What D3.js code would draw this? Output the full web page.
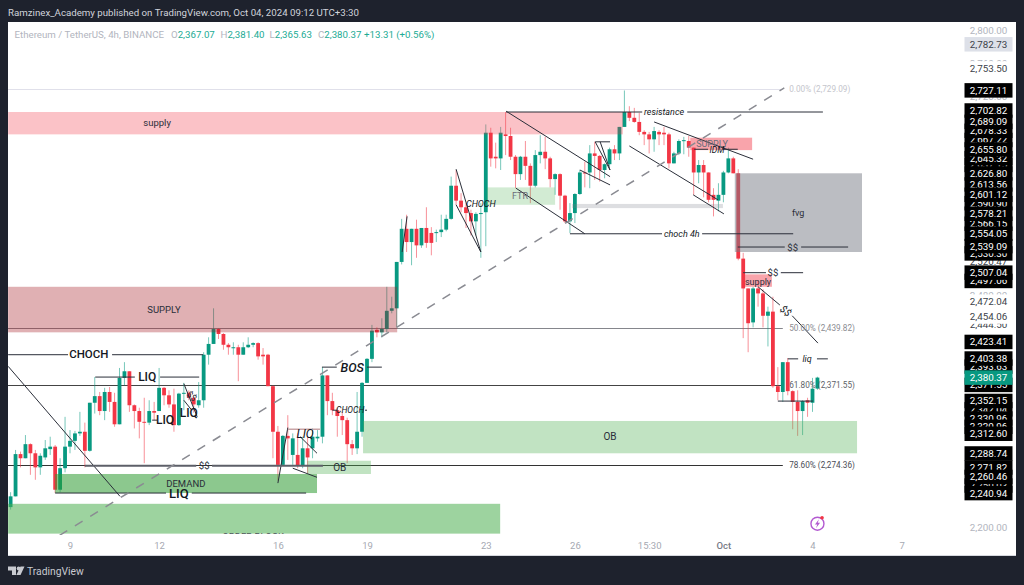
<!DOCTYPE html>
<html>
<head>
<meta charset="utf-8">
<title>ETHUSDT 4h</title>
<script src="https://cdnjs.cloudflare.com/ajax/libs/d3/7.8.5/d3.min.js"></script>
<style>
  html, body { margin: 0; padding: 0; background: #1e222d; overflow: hidden; }
  svg { display: block; font-family: Roboto, sans-serif; }
  .note { fill: #2a2e39; }
  .note.gray { fill: #6a6d78; }
  .note.strong { font-weight: 500; fill: #131722; }
  .note.slant { font-style: italic; fill: #131722; }
  .note.heavy { font-style: italic; font-weight: 500; fill: #131722; }
</style>
</head>
<body>
<div id="chart"></div>
<script>
// candles, 4h bars, first bar is Sep 7 00:00
const opens = [
  2224,2237,2288,2283,2300,2289,2272,2284,2294,2297,
  2245,2271,2297,2304,2313,2315,2292,2350,2358,2340,
  2363,2351,2324,2380,2388,2347,2340,2327,2326,2340,
  2340,2368,2359,2348,2323,2361,2362,2356,2347,2353,
  2408,2421,2439,2433,2420,2416,2417,2408,2417,2420,
  2422,2408,2408,2370,2315,2275,2310,2287,2287,2274,
  2295,2295,2307,2309,2383,2352,2341,2334,2329,2300,
  2295,2315,2374,2403,2438,2435,2439,2461,2464,2520,
  2560,2544,2560,2540,2561,2555,2555,2556,2559,2572,
  2612,2594,2586,2579,2569,2578,2580,2676,2647,2645,
  2674,2672,2647,2626,2647,2636,2612,2649,2653,2645,
  2620,2626,2600,2569,2579,2602,2628,2628,2651,2648,
  2631,2638,2656,2651,2683,2701,2694,2689,2677,2674,
  2668,2677,2676,2674,2639,2651,2666,2666,2658,2628,
  2637,2628,2601,2594,2601,2628,2645,2627,2524,2488,
  2447,2488,2482,2455,2460,2370,2363,2399,2364,2351,
  2340,2353,2350,2367.07];
const highs = [
  2242,2293,2291,2311,2301,2293,2289,2305,2309,2299,
  2283,2333,2317,2316,2339,2326,2350,2381,2363,2368,
  2369,2362,2392,2399,2388,2348,2344,2356,2353,2351,
  2392,2369,2365,2367,2362,2374,2365,2357,2375,2411,
  2429,2464,2440,2434,2422,2423,2420,2423,2429,2423,
  2423,2416,2409,2371,2322,2311,2335,2313,2313,2309,
  2309,2319,2317,2393,2383,2362,2344,2339,2332,2305,
  2363,2375,2404,2444,2441,2452,2490,2478,2520,2572,
  2577,2560,2571,2561,2586,2562,2559,2577,2577,2623,
  2631,2603,2591,2583,2580,2591,2686,2682,2664,2683,
  2701,2682,2649,2648,2666,2639,2655,2673,2671,2647,
  2627,2627,2601,2591,2603,2631,2641,2661,2665,2649,
  2639,2658,2661,2683,2727,2708,2706,2700,2679,2677,
  2683,2679,2683,2676,2653,2668,2671,2672,2658,2643,
  2643,2628,2609,2615,2630,2658,2647,2632,2531,2488,
  2490,2498,2487,2466,2478,2393,2399,2404,2365,2365,
  2353,2356,2380,2381.40];
const lows = [
  2221,2237,2272,2283,2263,2257,2263,2281,2287,2241,
  2242,2266,2289,2293,2310,2272,2291,2337,2335,2329,
  2339,2321,2324,2371,2339,2319,2307,2277,2323,2329,
  2340,2347,2344,2315,2322,2341,2353,2338,2344,2344,
  2396,2421,2427,2414,2408,2408,2376,2408,2416,2417,
  2402,2396,2370,2283,2256,2275,2281,2275,2271,2271,
  2265,2283,2303,2301,2335,2335,2309,2311,2277,2287,
  2288,2309,2374,2399,2429,2429,2435,2458,2441,2517,
  2532,2516,2525,2537,2537,2528,2544,2550,2557,2571,
  2589,2580,2561,2552,2552,2525,2539,2635,2633,2631,
  2649,2643,2609,2619,2619,2591,2610,2639,2632,2610,
  2601,2583,2567,2555,2567,2601,2610,2609,2619,2617,
  2621,2635,2643,2643,2683,2690,2688,2673,2661,2651,
  2653,2661,2661,2633,2639,2649,2650,2647,2601,2615,
  2598,2592,2575,2581,2592,2627,2627,2522,2428,2411,
  2441,2466,2441,2418,2368,2353,2351,2359,2318,2310,
  2311,2333,2339,2365.63];
const closes = [
  2237,2288,2283,2300,2289,2272,2286,2295,2297,2245,
  2271,2297,2304,2313,2315,2292,2350,2358,2340,2363,
  2351,2324,2380,2388,2347,2340,2327,2326,2340,2338,
  2368,2359,2348,2323,2361,2362,2356,2348,2353,2408,
  2421,2439,2433,2420,2417,2417,2408,2417,2420,2422,
  2406,2406,2370,2315,2275,2310,2307,2307,2274,2295,
  2284,2309,2309,2383,2352,2341,2334,2329,2300,2295,
  2315,2374,2403,2437,2435,2439,2461,2464,2520,2560,
  2544,2560,2540,2561,2543,2543,2556,2559,2572,2612,
  2594,2586,2579,2569,2578,2579,2676,2645,2645,2676,
  2672,2647,2626,2647,2636,2612,2649,2653,2645,2620,
  2626,2600,2569,2579,2602,2628,2627,2651,2648,2631,
  2638,2656,2651,2683,2701,2694,2689,2677,2674,2668,
  2678,2674,2674,2639,2651,2666,2667,2658,2628,2637,
  2628,2595,2595,2601,2628,2645,2627,2524,2488,2446,
  2488,2482,2455,2460,2370,2363,2399,2364,2351,2340,
  2352,2350,2367,2380.37];

// time axis
const tickBars = [12, 30, 54, 72, 96, 114, 129, 144, 162, 180];
const tickLabels = ["9", "12", "16", "19", "23", "26", "15:30", "Oct", "4", "7"];

// fib levels
const fibPrices = [2729.09, 2439.82, 2371.55, 2274.36];
const fibLabels = ["0.00% (2,729.09)", "50.00% (2,439.82)", "61.80% (2,371.55)", "78.60% (2,274.36)"];

// price scale labels, later ones paint over earlier ones
const axisGray = [2800, 2760, 2720, 2480, 2200];
const axisPlain = [2520.47, 2753.50, 2472.04, 2444.50, 2454.06];
const axisBlack = [
  2667.22, 2637.15, 2590.90, 2566.15, 2530.30, 2678.33, 2645.32,
  2497.06, 2393.63, 2371.55, 2342.04, 2330.96, 2320.96, 2250.03,
  2702.82, 2689.09, 2655.80, 2626.80, 2613.56, 2601.12, 2578.21, 2554.05, 2539.09,
  2507.04, 2727.11, 2423.41, 2403.38, 2352.15, 2312.60,
  2288.74, 2271.82, 2260.46, 2240.94];

// boxes: first bar, last bar, top price, bottom price
const zones = [
  { bars: [-0.5, 123.7], prices: [2701, 2674], kind: "pink" },
  { bars: [-0.5, 78.1], prices: [2490, 2435], kind: "rose" },
  { bars: [-0.5, 98.9], prices: [2228, 2192], kind: "green" },
  { bars: [9, 61.9], prices: [2264, 2241], kind: "deep" },
  { bars: [59.9, 72.8], prices: [2280, 2264], kind: "pale" },
  { bars: [71.2, 171], prices: [2328, 2289], kind: "pale" },
  { bars: [96.2, 110], prices: [2610, 2589], kind: "faint" },
  { bars: [113.4, 143.9], prices: [2590, 2585], kind: "strip" },
  { bars: [137.3, 149.8], prices: [2670, 2655], kind: "red" },
  { bars: [146.3, 172], prices: [2627, 2532], kind: "gray" },
  { bars: [148, 153.8], prices: [2505, 2490], kind: "red" }
];
const zoneFill = {
  pink: "rgba(242,54,69,.3)", rose: "rgba(166,29,38,.35)", green: "rgba(76,175,80,.55)",
  deep: "rgba(46,155,50,.55)", pale: "rgba(76,175,80,.35)", faint: "rgba(76,175,80,.25)",
  strip: "rgba(120,123,134,.25)", red: "rgba(242,54,69,.45)", gray: "rgba(120,123,134,.5)"
};

// drawn lines: bar, price, bar, price
const segments = [
  [-0.5, 2408, 11.6, 2408], [20.5, 2408, 38.9, 2408],
  [-0.5, 2394, 22.1, 2237],
  [17.1, 2381, 25.1, 2381], [30.2, 2381, 38.1, 2381],
  [28.6, 2329, 29.6, 2329],
  [35, 2373, 37.7, 2333], [35, 2353, 36.6, 2341],
  [9, 2241, 31.4, 2241], [36.6, 2241, 59.7, 2241],
  [54, 2253, 56, 2320],
  [58.5, 2309, 61.9, 2289], [57, 2271, 61.9, 2260],
  [62.9, 2393, 65.9, 2393], [72, 2393, 75, 2393],
  [65, 2341, 66, 2341], [71.6, 2341, 72, 2341],
  [90, 2632, 95, 2532], [90, 2589, 95, 2532], [80.1, 2575, 79.1, 2532],
  [100.1, 2701, 127.6, 2701], [136.7, 2701, 164.1, 2701],
  [100.1, 2702, 121.1, 2623], [102.1, 2609, 116, 2554],
  [113, 2554, 131.6, 2554], [139.7, 2554, 158.1, 2554],
  [118.1, 2665, 121.1, 2665], [118.1, 2665, 121.1, 2631], [119.1, 2665, 121.1, 2631],
  [115, 2631, 121.1, 2613],
  [130, 2689, 150, 2644], [125, 2660, 142.9, 2595], [137.9, 2601, 144.1, 2578],
  [138.1, 2656, 140.9, 2656], [143.9, 2656, 146.9, 2656],
  [146.9, 2538, 156.4, 2538], [159.7, 2538, 169.2, 2538],
  [148, 2507, 152.6, 2507], [155.6, 2507, 160.1, 2507],
  [151, 2490, 155.4, 2468], [157.9, 2455, 163.1, 2422],
  [157, 2403, 159.1, 2403], [162.9, 2403, 165.1, 2403],
  [155, 2352, 162.1, 2352]
];
const thickSegments = [[15, 2274, 37.5, 2274], [40.7, 2274, 63.1, 2274]];
const trend = [9.9, 2190, 156.3, 2730];
const liqBox = [56, 2318, 62.5, 2318];

// text on the chart: text, bar, price, size, class, rotation
const notes = [
  ["supply", 29.6, 2688, 9.5, "", 0],
  ["SUPPLY", 31, 2463, 9.5, "", 0],
  ["CHOCH", 15.8, 2409, 11.5, "strong", 0],
  ["LIQ", 27.6, 2381, 12, "strong", 0],
  ["LIQ", 31.2, 2329, 12, "strong", 0],
  ["LIQ", 36, 2338, 12, "strong", 0],
  ["$$", 36.6, 2358, 9, "", 40],
  ["$$", 39.1, 2274, 9.5, "", 0],
  ["DEMAND", 35.4, 2252, 9.5, "", 0],
  ["LIQ", 34, 2241, 13, "strong", 0],
  ["LIQ", 59.5, 2312, 12, "slant", 0],
  ["OB", 66.5, 2272, 10, "", 0],
  ["OB", 121.1, 2309, 10, "", 0],
  ["BOS", 69, 2393, 12.5, "heavy", 0],
  ["CHOCH", 68.6, 2341, 8.5, "slant", 0],
  ["CHOCH", 95, 2590, 9, "slant", 0],
  ["FTR", 102.9, 2600, 9, "gray", 0],
  ["resistance", 132, 2701, 9, "slant", 0],
  ["choch 4h", 135.6, 2554, 9, "slant", 0],
  ["SUPPLY", 141.7, 2662, 9, "gray", 0],
  ["IDM", 142.7, 2655, 8.5, "slant", 0],
  ["fvg", 159.1, 2579, 9, "", 0],
  ["$$", 158, 2538, 9.5, "", 0],
  ["$$", 154, 2507, 9.5, "", 0],
  ["supply", 151, 2496, 9, "", 0],
  ["$$", 156.6, 2461, 10, "slant", 40],
  ["liq", 160.9, 2403, 9, "slant", 0]
];

const width = 1024, height = 585;
const plot = { left: 8, right: 963, top: 22, bottom: 535, edge: 1016, base: 556 };

const svg = d3.select("#chart").append("svg")
  .attr("width", width)
  .attr("height", height);

svg.append("rect")
  .attr("x", plot.left)
  .attr("y", plot.top)
  .attr("width", plot.edge - plot.left)
  .attr("height", plot.base - plot.top)
  .attr("fill", "#fff");
svg.append("rect")
  .attr("x", plot.left)
  .attr("y", plot.base - 1)
  .attr("width", plot.edge - plot.left)
  .attr("height", 1)
  .attr("fill", "#d6d8de");

svg.append("clipPath").attr("id", "plot-clip").append("rect")
  .attr("x", plot.left)
  .attr("y", plot.top)
  .attr("width", plot.right - plot.left)
  .attr("height", plot.bottom - plot.top);

// 4.95px per bar, 0.8283px per dollar
const x = d3.scaleLinear().domain([0, 180]).range([10.6, 901.6]);
const y = d3.scaleLinear().domain([2800, 2200]).range([30, 527]);

const g = svg.append("g").attr("clip-path", "url(#plot-clip)");

// trading view keeps the fib lines behind everything
const fibColor = ["#e0e0ea", "#85868c", "#444", "#333"];
g.selectAll(".fib").data(fibPrices).join("line")
  .attr("class", "fib")
  .attr("x1", plot.left)
  .attr("x2", x(156))
  .attr("y1", d => Math.round(y(d)) + 0.5)
  .attr("y2", d => Math.round(y(d)) + 0.5)
  .attr("stroke", (d, i) => fibColor[i]);

const bars = d3.range(opens.length);
const isUp = i => closes[i] >= opens[i];

g.selectAll(".wick").data(bars).join("line")
  .attr("class", "wick")
  .attr("x1", i => x(i))
  .attr("x2", i => x(i))
  .attr("y1", i => y(highs[i]))
  .attr("y2", i => y(lows[i]))
  .attr("stroke", i => isUp(i) ? "#089981" : "#f23645")
  .attr("stroke-opacity", 0.55)
  .attr("stroke-width", 1);

g.selectAll(".body").data(bars).join("rect")
  .attr("class", "body")
  .attr("x", i => x(i) - 1.9)
  .attr("width", 3.8)
  .attr("y", i => y(Math.max(opens[i], closes[i])))
  .attr("height", i => Math.max(1, Math.abs(y(opens[i]) - y(closes[i]))))
  .attr("fill", i => isUp(i) ? "#089981" : "#f23645");

g.selectAll(".zone").data(zones).join("rect")
  .attr("class", "zone")
  .attr("x", d => x(d.bars[0]))
  .attr("width", d => x(d.bars[1]) - x(d.bars[0]))
  .attr("y", d => y(d.prices[0]))
  .attr("height", d => y(d.prices[1]) - y(d.prices[0]))
  .attr("fill", d => zoneFill[d.kind]);

g.selectAll(".seg").data(segments).join("line")
  .attr("class", "seg")
  .attr("x1", d => x(d[0]))
  .attr("y1", d => y(d[1]))
  .attr("x2", d => x(d[2]))
  .attr("y2", d => y(d[3]))
  .attr("stroke", "#2a2e39")
  .attr("stroke-width", 1);

g.selectAll(".seg-thick").data(thickSegments).join("line")
  .attr("class", "seg-thick")
  .attr("x1", d => x(d[0]))
  .attr("y1", d => y(d[1]))
  .attr("x2", d => x(d[2]))
  .attr("y2", d => y(d[3]))
  .attr("stroke", "#5d5f68")
  .attr("stroke-width", 2);

g.append("line")
  .attr("x1", x(liqBox[0]))
  .attr("y1", y(liqBox[1]))
  .attr("x2", x(liqBox[2]))
  .attr("y2", y(liqBox[3]))
  .attr("stroke", "#c9a5a8")
  .attr("stroke-width", 1.5);

g.append("line")
  .attr("x1", x(trend[0]))
  .attr("y1", y(trend[1]))
  .attr("x2", x(trend[2]))
  .attr("y2", y(trend[3]))
  .attr("stroke", "#8a8b92")
  .attr("stroke-width", 1.5)
  .attr("stroke-dasharray", "9 9");

g.selectAll(".note").data(notes).join("text")
  .attr("class", d => "note " + d[4])
  .attr("transform", d => `translate(${x(d[1])},${y(d[2])}) rotate(${d[5]})`)
  .attr("text-anchor", "middle")
  .attr("dominant-baseline", "central")
  .attr("font-size", d => d[3])
  .text(d => d[0]);

// the order block caption sits half outside its box in the original
svg.append("clipPath").attr("id", "ob-clip").append("rect")
  .attr("x", plot.left)
  .attr("y", y(2228))
  .attr("width", plot.right - plot.left)
  .attr("height", y(2192) - y(2228));
g.append("text")
  .attr("class", "note")
  .attr("clip-path", "url(#ob-clip)")
  .attr("x", x(49))
  .attr("y", y(2188))
  .attr("text-anchor", "middle")
  .attr("dominant-baseline", "central")
  .attr("font-size", 9.5)
  .text("ORDER BLOCK");

g.selectAll(".fib-label").data(fibPrices).join("text")
  .attr("class", "fib-label")
  .attr("x", x(157.3))
  .attr("y", d => y(d))
  .attr("dominant-baseline", "central")
  .attr("font-size", 8.2)
  .attr("fill", (d, i) => ["#c4c5cc", "#8b8c92", "#5d5f68", "#4a4c55"][i])
  .text((d, i) => fibLabels[i]);

// news bolt near the last bar
const bolt = svg.append("g").attr("transform", `translate(${x(163)},${y(2204)})`);
bolt.append("circle").attr("r", 6.5).attr("fill", "#fff").attr("stroke", "#b35ad1").attr("stroke-width", 1.4);
bolt.append("path").attr("d", "M1.5 -4.5 L-2.5 0.8 H-0.2 L-1.5 4.5 L2.6 -1 H0.3 Z").attr("fill", "#b35ad1");
bolt.append("circle").attr("cx", 4.6).attr("cy", -6).attr("r", 1.8).attr("fill", "#f23645");

// time axis
const xAxis = d3.axisBottom(x)
  .tickValues(tickBars)
  .tickFormat((d, i) => tickLabels[i])
  .tickSize(0)
  .tickPadding(0);
const xAxisG = svg.append("g")
  .attr("transform", `translate(0,${plot.bottom + 7})`)
  .call(xAxis);
xAxisG.select(".domain").remove();
xAxisG.selectAll("text")
  .attr("font-family", "Roboto, sans-serif")
  .attr("font-size", 9.5)
  .attr("fill", "#a6a9b2");
xAxisG.selectAll(".tick").filter((d, i) => tickLabels[i] === "Oct").select("text")
  .attr("font-weight", 500)
  .attr("fill", "#787b86");

// price scale
const axisX = 988.5, boxW = 48, boxH = 14.5;
const priceFmt = d3.format(",.2f");

function priceLabels(values, boxFill, textFill) {
  const sel = svg.append("g").selectAll("g").data(values).join("g")
    .attr("transform", d => `translate(${axisX},${y(d)})`);
  sel.append("rect")
    .attr("x", -boxW / 2)
    .attr("y", -boxH / 2)
    .attr("width", boxW)
    .attr("height", boxH)
    .attr("fill", boxFill);
  sel.append("text")
    .attr("text-anchor", "middle")
    .attr("dominant-baseline", "central")
    .attr("font-size", 9.8)
    .attr("fill", textFill)
    .text(d => priceFmt(d));
}

priceLabels(axisGray, "#fff", "#b2b5be");
priceLabels(axisPlain, "#fff", "#3c3f49");
priceLabels(axisBlack, "#000", "#fff");
priceLabels([2782.73], "#dde0e8", "#3c3f49");
priceLabels([2380.37], "#089981", "#fff");

// header and legend
svg.append("text")
  .attr("x", 8)
  .attr("y", 15.5)
  .attr("font-size", 9.7)
  .attr("fill", "#d1d4dc")
  .text("Ramzinex_Academy published on TradingView.com, Oct 04, 2024 09:12 UTC+3:30");

const legend = svg.append("text").attr("y", 37.5).attr("font-size", 9.7);
legend.append("tspan").attr("x", 14.5).attr("fill", "#b2b5be").text("Ethereum / TetherUS, 4h, BINANCE");
const ohlcLabels = ["O", "H", "L", "C"];
const ohlcValues = [opens[163], highs[163], lows[163], closes[163]];
const ohlcX = [171, 220.5, 269.5, 318];
ohlcLabels.forEach((lab, i) => {
  legend.append("tspan").attr("x", ohlcX[i]).attr("fill", "#b2b5be").text(lab);
  legend.append("tspan").attr("fill", "#22ab94").text(priceFmt(ohlcValues[i]));
});
legend.append("tspan").attr("x", 364).attr("fill", "#22ab94").text("+13.31 (+0.56%)");

// logo
const logo = svg.append("g").attr("fill", "#c8cad0");
logo.append("path").attr("d", "M8 566.5h8v8.5h-4v-4.5h-4z");
logo.append("circle").attr("cx", 18.6).attr("cy", 568.5).attr("r", 1.9);
logo.append("path").attr("d", "M20.5 566.5h4l-4 8.5h-4.2z");
svg.append("text")
  .attr("x", 27)
  .attr("y", 575)
  .attr("font-size", 10.3)
  .attr("fill", "#c8cad0")
  .text("TradingView");
</script>
</body>
</html>
